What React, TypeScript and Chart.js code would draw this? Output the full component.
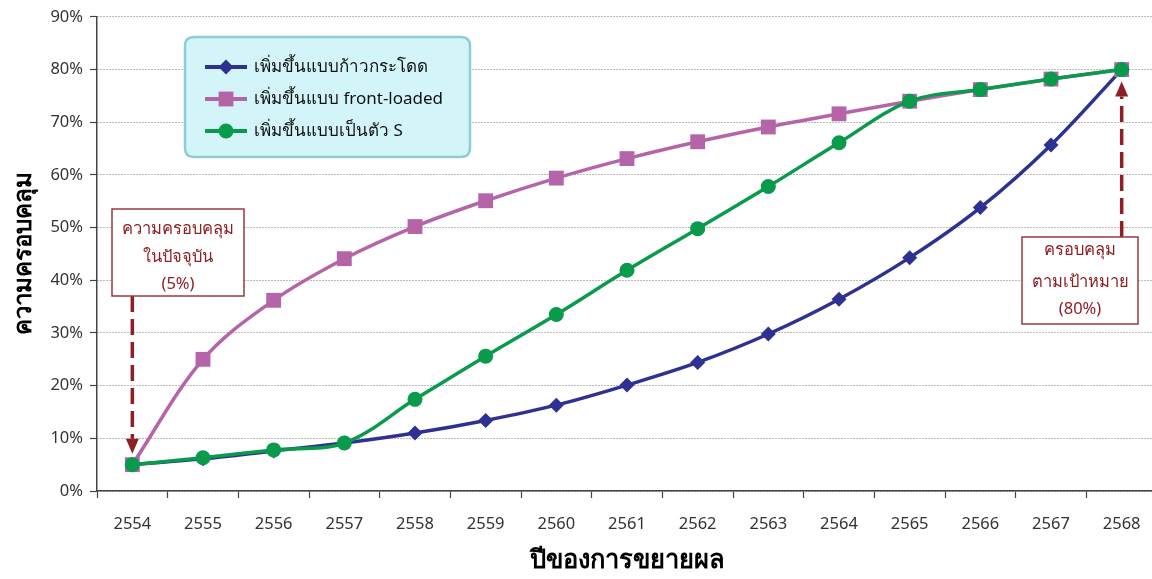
import React, { useEffect, useRef } from "react";
import { Chart, registerables } from "chart.js";

Chart.register(...registerables);

// Coverage scenarios (% of target population), by Buddhist-era year
const years = ["2554", "2555", "2556", "2557", "2558", "2559", "2560", "2561", "2562", "2563", "2564", "2565", "2566", "2567", "2568"];
const stepJump = [5, 6.1, 7.6, 9.1, 11, 13.4, 16.3, 20.1, 24.4, 29.8, 36.4, 44.3, 53.8, 65.7, 80];
const frontLoaded = [5, 25, 36.2, 44.1, 50.2, 55.1, 59.4, 63.1, 66.3, 69.1, 71.6, 74, 76.2, 78.2, 80];
const sCurve = [5, 6.3, 7.8, 9.1, 17.4, 25.6, 33.5, 41.9, 49.8, 57.8, 66.1, 74, 76.2, 78.2, 80];

const seriesNames = ["เพิ่มขึ้นแบบก้าวกระโดด", "เพิ่มขึ้นแบบ front-loaded", "เพิ่มขึ้นแบบเป็นตัว S"];
const seriesColors = ["#2E3192", "#B565A7", "#0A9A4C"];
const seriesPoints = ["rectRot", "rect", "circle"];
const seriesRadius = [7.5, 10.5, 7.5];

const currentNote = ["ความครอบคลุม", "ในปัจจุบัน", "(5%)"];
const targetNote = ["ครอบคลุม", "ตามเป้าหมาย", "(80%)"];
const currentValue = 5;
const targetValue = 80;

const FONT = "'Noto Sans', 'DejaVu Sans', sans-serif";
const NOTE_COLOR = "#8E1F24";

function marker(ctx: CanvasRenderingContext2D, style: string, r: number, x: number, y: number, color: string) {
  ctx.save();
  ctx.fillStyle = color;
  ctx.beginPath();
  if (style === "circle") {
    ctx.arc(x, y, r, 0, Math.PI * 2);
  } else if (style === "rect") {
    const h = r * Math.SQRT1_2;
    ctx.rect(x - h, y - h, 2 * h, 2 * h);
  } else {
    ctx.moveTo(x, y - r);
    ctx.lineTo(x + r, y);
    ctx.lineTo(x, y + r);
    ctx.lineTo(x - r, y);
    ctx.closePath();
  }
  ctx.fill();
  ctx.restore();
}

function dashedArrow(ctx: CanvasRenderingContext2D, x: number, yFrom: number, yTip: number) {
  const dir = yTip > yFrom ? 1 : -1;
  const headLen = 15;
  const headHalf = 6.5;
  const yBase = yTip - dir * headLen;
  ctx.save();
  ctx.strokeStyle = NOTE_COLOR;
  ctx.fillStyle = NOTE_COLOR;
  ctx.lineWidth = 3.5;
  ctx.setLineDash([16, 7]);
  ctx.beginPath();
  ctx.moveTo(x, yFrom);
  ctx.lineTo(x, yBase);
  ctx.stroke();
  ctx.setLineDash([]);
  ctx.beginPath();
  ctx.moveTo(x - headHalf, yBase);
  ctx.lineTo(x + headHalf, yBase);
  ctx.lineTo(x, yTip);
  ctx.closePath();
  ctx.fill();
  ctx.restore();
}

function noteBox(ctx: CanvasRenderingContext2D, x: number, y: number, w: number, h: number, lines: string[], lineYs: number[]) {
  ctx.save();
  ctx.fillStyle = "#ffffff";
  ctx.fillRect(x, y, w, h);
  ctx.strokeStyle = "#9A3A3E";
  ctx.lineWidth = 1.5;
  ctx.strokeRect(x, y, w, h);
  ctx.fillStyle = NOTE_COLOR;
  ctx.font = `16.5px ${FONT}`;
  ctx.textAlign = "center";
  ctx.textBaseline = "middle";
  lines.forEach((t, i) => ctx.fillText(t, x + w / 2, lineYs[i]));
  ctx.restore();
}

function roundRect(ctx: CanvasRenderingContext2D, x: number, y: number, w: number, h: number, r: number) {
  ctx.beginPath();
  ctx.moveTo(x + r, y);
  ctx.lineTo(x + w - r, y);
  ctx.quadraticCurveTo(x + w, y, x + w, y + r);
  ctx.lineTo(x + w, y + h - r);
  ctx.quadraticCurveTo(x + w, y + h, x + w - r, y + h);
  ctx.lineTo(x + r, y + h);
  ctx.quadraticCurveTo(x, y + h, x, y + h - r);
  ctx.lineTo(x, y + r);
  ctx.quadraticCurveTo(x, y, x + r, y);
  ctx.closePath();
}

const overlayPlugin = {
  id: "coverageOverlay",
  afterDraw(chart: any) {
    const ctx: CanvasRenderingContext2D = chart.ctx;
    const xs = chart.scales.x;
    const ys = chart.scales.y;

    // Legend panel
    ctx.save();
    roundRect(ctx, 185, 37, 285, 120, 9);
    ctx.fillStyle = "#D3F4F9";
    ctx.fill();
    ctx.strokeStyle = "#8CCDD6";
    ctx.lineWidth = 2.5;
    ctx.stroke();
    const rowYs = [67, 99, 131];
    seriesNames.forEach((name, i) => {
      const y = rowYs[i];
      ctx.strokeStyle = seriesColors[i];
      ctx.lineWidth = 4;
      ctx.beginPath();
      ctx.moveTo(205, y);
      ctx.lineTo(247, y);
      ctx.stroke();
      marker(ctx, seriesPoints[i], seriesRadius[i], 226, y, seriesColors[i]);
      ctx.fillStyle = "#111";
      ctx.font = `17px ${FONT}`;
      ctx.textAlign = "left";
      ctx.textBaseline = "middle";
      ctx.fillText(name, 254, y);
    });
    ctx.restore();

    // Annotations: current coverage and target coverage
    const x0 = xs.getPixelForValue(0);
    const y0 = ys.getPixelForValue(currentValue);
    dashedArrow(ctx, x0, 296, y0 - 11);
    noteBox(ctx, 112, 209, 132, 87, currentNote, [229, 257, 284]);

    const x1 = xs.getPixelForValue(years.length - 1);
    const y1 = ys.getPixelForValue(targetValue);
    dashedArrow(ctx, x1, 237, y1 + 12);
    noteBox(ctx, 1022, 237, 116, 87, targetNote, [250, 282, 309]);
  },
};

export default function App() {
  const canvasRef = useRef<HTMLCanvasElement | null>(null);

  useEffect(() => {
    const canvas = canvasRef.current;
    if (!canvas) return;
    const series = [stepJump, frontLoaded, sCurve];
    const chart = new Chart(canvas, {
      type: "line",
      data: {
        labels: years,
        datasets: series.map((values, i) => ({
          label: seriesNames[i],
          data: values,
          borderColor: seriesColors[i],
          backgroundColor: seriesColors[i],
          pointBackgroundColor: seriesColors[i],
          pointBorderWidth: 0,
          pointStyle: seriesPoints[i] as any,
          pointRadius: seriesRadius[i],
          borderWidth: 3.5,
          tension: 0.35,
          fill: false,
          clip: false,
          // green on top, then pink, blue underneath
          order: 3 - i,
        })),
      },
      options: {
        responsive: true,
        maintainAspectRatio: false,
        animation: false,
        layout: { autoPadding: false, padding: { top: 16, right: 0, left: 0, bottom: 0 } },
        plugins: {
          legend: { display: false },
          tooltip: { enabled: false },
        },
        scales: {
          x: {
            type: "category",
            offset: true,
            grid: {
              offset: true,
              drawOnChartArea: false,
              drawTicks: true,
              tickLength: 7,
              tickColor: "#444",
              tickWidth: 1.2,
            },
            border: { color: "#444", width: 1.5 },
            ticks: { color: "#333", font: { family: FONT, size: 16.5 }, padding: 16 },
            title: {
              display: true,
              text: "ปีของการขยายผล",
              color: "#000",
              font: { family: FONT, size: 25.5, weight: "bold" },
              padding: { top: 2, bottom: 3 },
            },
            afterFit: (s: any) => {
              s.height = 88;
              s.paddingLeft = 0;
              s.paddingRight = 0;
            },
          },
          y: {
            min: 0,
            max: 90,
            ticks: {
              stepSize: 10,
              color: "#333",
              font: { family: FONT, size: 16.5 },
              padding: 7,
              callback: (v: any) => `${v}%`,
            },
            grid: {
              color: "#777",
              lineWidth: 1,
              tickLength: 7,
              tickColor: "#444",
              tickWidth: 1.2,
              tickBorderDash: [],
            },
            border: { color: "#444", width: 1.5, dash: [1, 2] },
            title: {
              display: true,
              text: "ความครอบคลุม",
              color: "#000",
              font: { family: FONT, size: 24, weight: "bold" },
              padding: { top: 10, bottom: 0 },
            },
            afterFit: (s: any) => {
              s.width = 97;
            },
          },
        },
      },
      plugins: [overlayPlugin],
    });
    return () => chart.destroy();
  }, []);

  // The plot runs a little past the right edge of the frame, so the
  // canvas is wider than the visible area and clipped by its wrapper.
  return (
    <div style={{ position: "absolute", left: 0, top: 0, width: 1152, height: 579, overflow: "hidden", background: "#fff" }}>
      <div style={{ position: "relative", width: 1157, height: 579 }}>
        <canvas ref={canvasRef} />
      </div>
    </div>
  );
}
